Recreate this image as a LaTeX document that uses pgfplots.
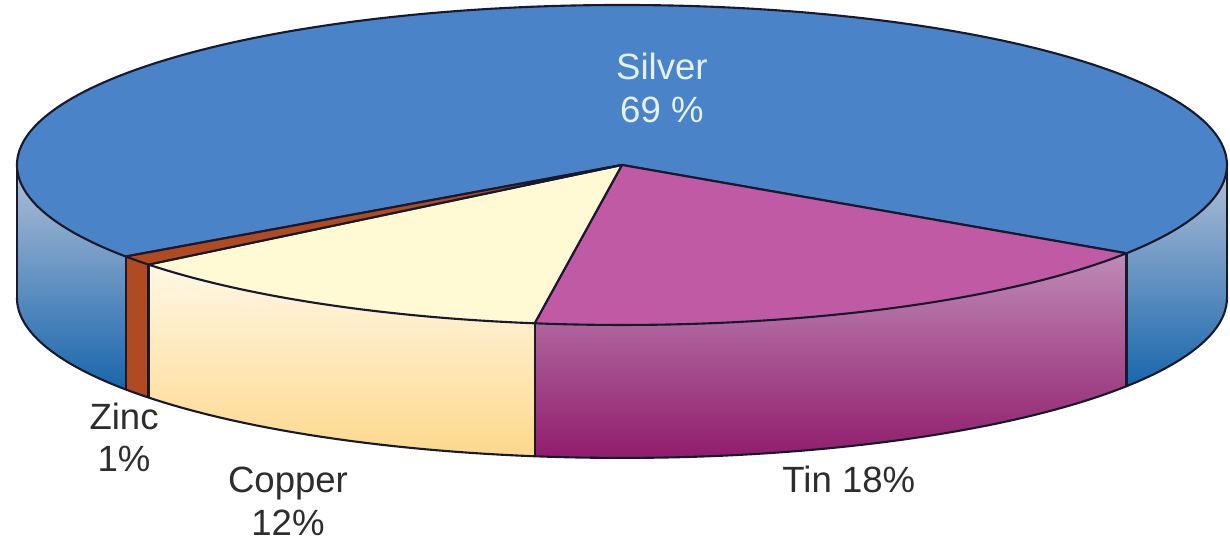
\documentclass[border=0pt]{standalone}
\usepackage{pgfplots}
\pgfplotsset{compat=1.18}
\usepackage{pgfplotstable}
\usepgfplotslibrary{fillbetween}
\usepackage{fontspec}
\setmainfont{Liberation Sans}

\definecolor{silverTop}{RGB}{74,131,199}
\definecolor{silverSideTop}{RGB}{178,192,216}
\definecolor{silverSideBot}{RGB}{25,102,172}
\definecolor{tinTop}{RGB}{192,90,165}
\definecolor{tinSideTop}{RGB}{190,138,182}
\definecolor{tinSideBot}{RGB}{145,28,108}
\definecolor{copTop}{RGB}{255,249,212}
\definecolor{copSideTop}{RGB}{255,247,230}
\definecolor{copSideBot}{RGB}{253,216,140}
\definecolor{zincCol}{RGB}{176,74,34}
\definecolor{edge}{RGB}{25,25,45}
\definecolor{lbl}{RGB}{45,45,45}
\definecolor{silverLbl}{RGB}{228,242,255}

\pgfplotstableread{
metal value
Silver 69
Tin 18
Copper 12
Zinc 1
}\piedata

\begin{document}
\begin{tikzpicture}
\pgfplotstablegetelem{0}{value}\of\piedata \edef\vSilver{\pgfplotsretval}
\pgfplotstablegetelem{1}{value}\of\piedata \edef\vTin{\pgfplotsretval}
\pgfplotstablegetelem{2}{value}\of\piedata \edef\vCopper{\pgfplotsretval}
\pgfplotstablegetelem{3}{value}\of\piedata \edef\vZinc{\pgfplotsretval}
\pgfmathsetmacro\aA{-33.5}
\pgfmathsetmacro\aB{\aA-3.6*\vTin}
\pgfmathsetmacro\aC{\aB-3.6*\vCopper}
\pgfmathsetmacro\aD{\aC-3.6*\vZinc}
\pgfmathsetmacro\aE{\aD-3.6*\vSilver}
\def\k{0.2645}
\def\d{0.2198}
\begin{axis}[
  scale only axis, width=12.3cm, height=5.4cm,
  xmin=-1.028, xmax=1.005, ymin=-0.620, ymax=0.2727,
  axis lines=none, clip=false,
  every axis plot/.append style={line width=0.6pt, line join=round},
]
% invisible frame so the picture keeps the axis box as its size
\path[draw=none] (rel axis cs:0,0) rectangle (rel axis cs:1,1);
% ---- side walls ----
\addplot[name path=tS1, draw=none, domain=\aA:0, samples=40] ({cos(x)},{\k*sin(x)});
\addplot[name path=bS1, draw=none, domain=\aA:0, samples=40] ({cos(x)},{\k*sin(x)-\d});
\addplot[top color=silverSideTop, bottom color=silverSideBot] fill between[of=tS1 and bS1];

\addplot[name path=tT, draw=none, domain=\aB:\aA, samples=60] ({cos(x)},{\k*sin(x)});
\addplot[name path=bT, draw=none, domain=\aB:\aA, samples=60] ({cos(x)},{\k*sin(x)-\d});
\addplot[top color=tinSideTop, bottom color=tinSideBot] fill between[of=tT and bT];

\addplot[name path=tC, draw=none, domain=\aC:\aB, samples=60] ({cos(x)},{\k*sin(x)});
\addplot[name path=bC, draw=none, domain=\aC:\aB, samples=60] ({cos(x)},{\k*sin(x)-\d});
\addplot[top color=copSideTop, bottom color=copSideBot] fill between[of=tC and bC];

\addplot[name path=tZ, draw=none, domain=\aD:\aC, samples=5] ({cos(x)},{\k*sin(x)});
\addplot[name path=bZ, draw=none, domain=\aD:\aC, samples=5] ({cos(x)},{\k*sin(x)-\d});
\addplot[fill=zincCol] fill between[of=tZ and bZ];

\addplot[name path=tS2, draw=none, domain=-180:\aD, samples=40] ({cos(x)},{\k*sin(x)});
\addplot[name path=bS2, draw=none, domain=-180:\aD, samples=40] ({cos(x)},{\k*sin(x)-\d});
\addplot[top color=silverSideTop, bottom color=silverSideBot] fill between[of=tS2 and bS2];

% ---- wall outlines ----
\addplot[draw=edge, domain=-180:0, samples=120] ({cos(x)},{\k*sin(x)-\d});
\addplot[draw=edge, domain=0:1, samples=2] ({cos(-180)},{\k*sin(-180)-\d*x});
\addplot[draw=edge, domain=0:1, samples=2] ({cos(0)},{\k*sin(0)-\d*x});
\addplot[draw=edge, domain=0:1, samples=2] ({cos(\aA)},{\k*sin(\aA)-\d*x});
\addplot[draw=edge, domain=0:1, samples=2] ({cos(\aB)},{\k*sin(\aB)-\d*x});
\addplot[draw=edge, domain=0:1, samples=2] ({cos(\aC)},{\k*sin(\aC)-\d*x});
\addplot[draw=edge, domain=0:1, samples=2] ({cos(\aD)},{\k*sin(\aD)-\d*x});

% ---- top sectors ----
\addplot[fill=silverTop, draw=edge, domain=\aE:\aD, samples=200] ({cos(x)},{\k*sin(x)}) -- (axis cs:0,0) -- cycle;
\addplot[fill=tinTop, draw=edge, domain=\aB:\aA, samples=60] ({cos(x)},{\k*sin(x)}) -- (axis cs:0,0) -- cycle;
\addplot[fill=copTop, draw=edge, domain=\aC:\aB, samples=60] ({cos(x)},{\k*sin(x)}) -- (axis cs:0,0) -- cycle;
\addplot[fill=zincCol, draw=edge, domain=\aD:\aC, samples=5] ({cos(x)},{\k*sin(x)}) -- (axis cs:0,0) -- cycle;

% ---- labels ----
\tikzset{lab/.style={anchor=base, font=\fontsize{10.4pt}{12.5pt}\selectfont, inner sep=0pt}}
\node[lab, text=silverLbl] at (axis cs:0.066,0.1405) {Silver};
\node[lab, text=silverLbl] at (axis cs:0.066,0.0694) {69 \%};
\node[lab, text=lbl] at (axis cs:-0.823,-0.438) {Zinc};
\node[lab, text=lbl] at (axis cs:-0.823,-0.507) {1\%};
\node[lab, text=lbl] at (axis cs:-0.552,-0.542) {Copper};
\node[lab, text=lbl] at (axis cs:-0.552,-0.612) {12\%};
\node[lab, text=lbl] at (axis cs:0.375,-0.542) {Tin 18\%};
\end{axis}
\end{tikzpicture}
\end{document}
